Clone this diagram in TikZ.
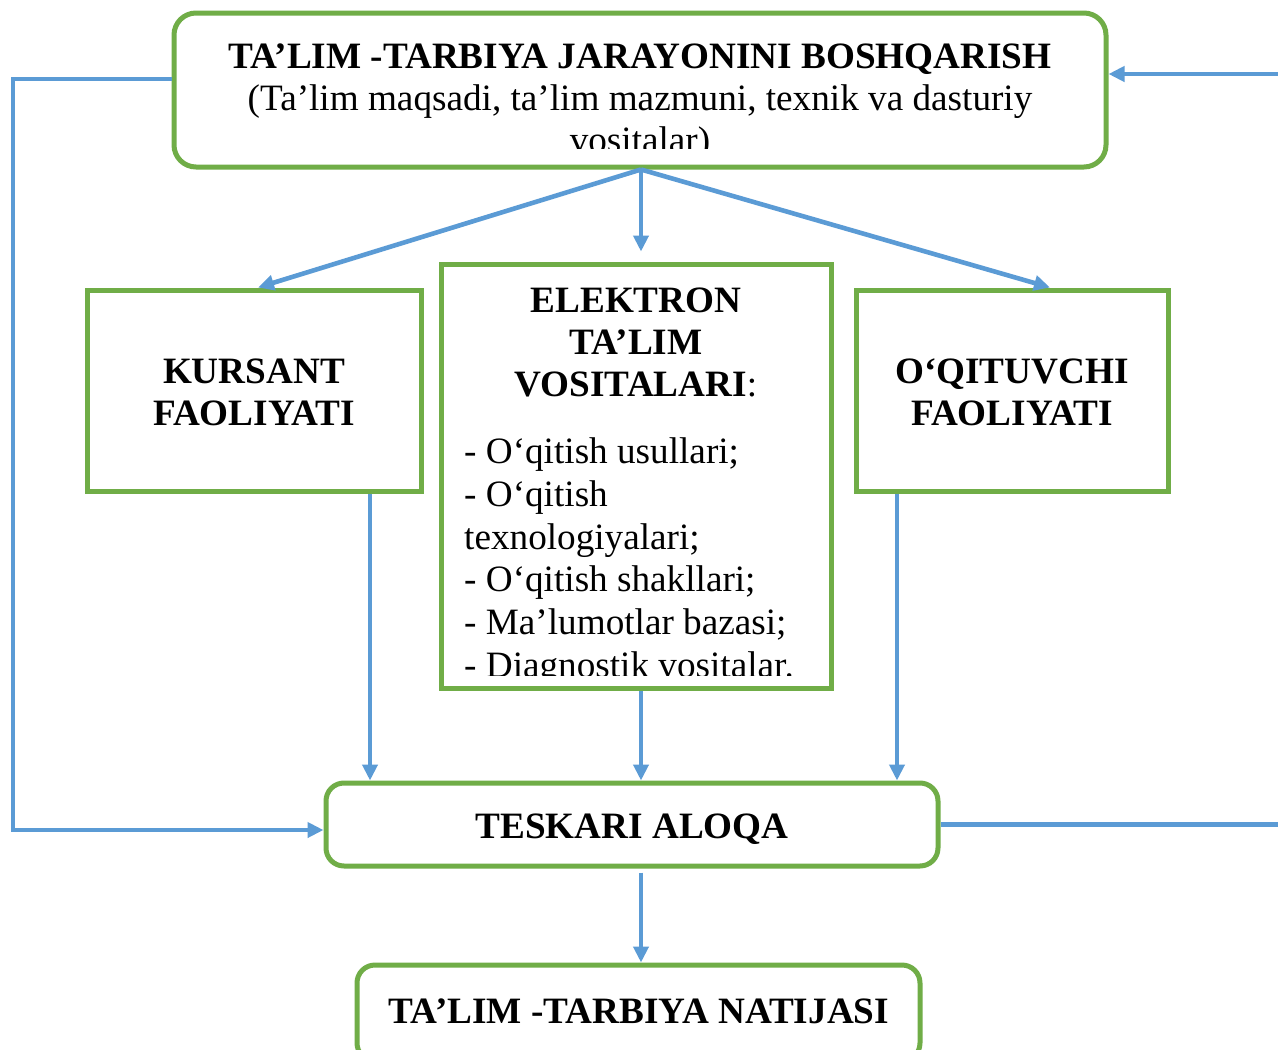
\documentclass[tikz,border=0pt]{standalone}
\usepackage{fontspec}
\setmainfont{Liberation Serif}
\usetikzlibrary{arrows.meta,calc}
\definecolor{gr}{HTML}{70AD47}
\definecolor{bl}{HTML}{5B9BD5}
\tikzset{
 box/.style={draw=gr,line width=5pt,inner sep=0pt,fill=white},
 rbox/.style={box,rounded corners=22pt},
 arr/.style={draw=bl,line width=4.6pt,-{Triangle[length=16pt,width=15pt]}},
 ln/.style={draw=bl,line width=4.6pt},
 tb/.style={font=\fontsize{37.2}{42}\selectfont\bfseries,inner sep=0pt,anchor=base},
 tr/.style={font=\fontsize{37.2}{42}\selectfont,inner sep=0pt,anchor=base},
 tl/.style={tr,anchor=base west}
}
\begin{document}
\begin{tikzpicture}[x=1pt,y=-1pt]
\clip (0,0) rectangle (1278,1050);
\fill[white] (0,0) rectangle (1278,1050);
% boxes
\node[rbox,minimum width=932pt,minimum height=154pt] (top) at (640,90) {};
\node[box,minimum width=334pt,minimum height=201pt] (kursant) at (254,390.5) {};
\node[box,minimum width=390pt,minimum height=424pt] (elek) at (636,476) {};
\node[box,minimum width=312pt,minimum height=201pt] (oqit) at (1012,390.5) {};
\node[rbox,rounded corners=18pt,minimum width=612pt,minimum height=83pt] (tesk) at (632,824.5) {};
\node[rbox,rounded corners=18pt,minimum width=563pt,minimum height=96pt] (nat) at (638.5,1013) {};
% texts
\node[tb] (t1) at (640,68) {TA’LIM -TARBIYA JARAYONINI BOSHQARISH};
\begin{scope}
\clip (174,13) rectangle (1106,148);
\node[tr] (t2) at (640,110) {(Ta’lim maqsadi, ta’lim mazmuni, texnik va dasturiy};
\node[tr] (t3) at (640,152) {vositalar)};
\end{scope}
\node[tb] (k1) at (254,383) {KURSANT};
\node[tb] (k2) at (254,425) {FAOLIYATI};
\node[tb] (o1) at (1012,383) {O‘QITUVCHI};
\node[tb] (o2) at (1012,425) {FAOLIYATI};
\node[tb] (e1) at (636,312) {ELEKTRON};
\node[tb] (e2) at (636,354) {TA’LIM};
\node[tb] (e3) at (636,396) {VOSITALARI\mdseries:};
\begin{scope}
\clip (441,264) rectangle (831,675);
\node[tl] (l1) at (464,463) {- O‘qitish usullari;};
\node[tl] (l2) at (464,506) {- O‘qitish};
\node[tl] (l3) at (464,549) {texnologiyalari;};
\node[tl] (l4) at (464,591) {- O‘qitish shakllari;};
\node[tl] (l5) at (464,634) {- Ma’lumotlar bazasi;};
\node[tl] (l6) at (464,677) {- Diagnostik vositalar.};
\end{scope}
\node[tb] (tt) at (632,838) {TESKARI ALOQA};
\node[tb] (nt) at (639,1023) {TA’LIM -TARBIYA NATIJASI};
% connectors
\coordinate (src) at ($(top.south)+(1,0)$);
\draw[arr] (src) -- ($(kursant.north)+(4,0)$);
\draw[arr] (src) -- ($(oqit.north)+(38,0)$);
\draw[arr,shorten >=10pt] (src) -- (src |- elek.north);
\coordinate (kd) at ($(kursant.south)+(116,0)$);
\draw[arr] (kd) -- (kd |- tesk.north);
\coordinate (ed) at ($(elek.south)+(5,0)$);
\draw[arr] (ed) -- (ed |- tesk.north);
\coordinate (od) at ($(oqit.south)+(-115,0)$);
\draw[arr] (od) -- (od |- tesk.north);
\coordinate (td) at ($(tesk.south)+(9,4)$);
\draw[arr] (td) -- (td |- nat.north);
\coordinate (lt) at ($(top.west)+(0,-11)$);
\coordinate (lc1) at (13,79);
\coordinate (lc2) at (13,830);
\draw[arr] (lt) -- (lc1) -- (lc2) -- (lc2 -| tesk.west);
\coordinate (rr) at (1280,74);
\draw[arr] (rr) -- (rr -| top.east);
\coordinate (rr2) at (1280,824.5);
\draw[ln] (tesk.east) -- (rr2);
\end{tikzpicture}
\end{document}
